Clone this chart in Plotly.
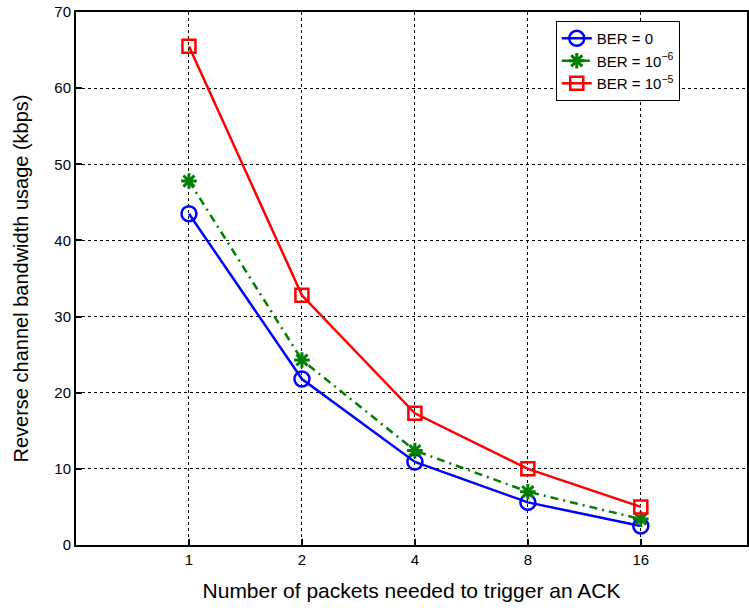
import plotly.graph_objects as go

x_labels = ["1", "2", "4", "8", "16"]
x_pos = [1, 2, 3, 4, 5]
ber0 = [43.5, 21.8, 10.9, 5.6, 2.5]
ber6 = [47.8, 24.3, 12.4, 7.0, 3.4]
ber5 = [65.5, 32.8, 17.3, 10.0, 5.0]
y_ticks = [0, 10, 20, 30, 40, 50, 60, 70]

fig = go.Figure()
fig.add_trace(go.Scatter(x=x_pos, y=ber0, mode="lines+markers", name="BER = 0",
                         line=dict(color="#0000ff", width=2.5),
                         marker=dict(symbol="circle-open", size=15, color="#0000ff", line=dict(width=2.5))))
fig.add_trace(go.Scatter(x=x_pos, y=ber6, mode="lines+markers", name="BER = 10<sup>−6</sup>",
                         line=dict(color="#007f00", width=2.5, dash="8px,5px,2px,5px"),
                         marker=dict(symbol="asterisk-open", size=13, color="#007f00", line=dict(width=3, color="#007f00"))))
fig.add_trace(go.Scatter(x=x_pos, y=ber5, mode="lines+markers", name="BER = 10<sup>−5</sup>",
                         line=dict(color="#ff0000", width=2.5),
                         marker=dict(symbol="square-open", size=13, color="#ff0000", line=dict(width=2.5))))

fig.update_layout(
    width=749, height=608,
    margin=dict(l=76, r=0, t=12, b=63),
    paper_bgcolor="white", plot_bgcolor="white",
    font=dict(family="Liberation Sans, Arial", size=14, color="black"),
    legend=dict(x=0.715, y=0.983, xanchor="left", yanchor="top",
                bordercolor="black", borderwidth=1, bgcolor="white",
                font=dict(size=15), tracegroupgap=0, itemwidth=30),
    showlegend=True,
)
fig.update_xaxes(range=[0, 5.94], tickvals=x_pos, ticktext=x_labels,
                 showline=True, linecolor="black", linewidth=2, mirror=True,
                 ticks="inside", ticklen=6, tickwidth=1.5, tickcolor="black",
                 showgrid=True, gridcolor="black", griddash="dot", gridwidth=1,
                 zeroline=False,
                 title=dict(text="Number of packets needed to trigger an ACK", font=dict(size=21), standoff=16),
                 tickfont=dict(size=15))
fig.update_yaxes(range=[0, 70], tickvals=y_ticks,
                 showline=True, linecolor="black", linewidth=2, mirror=True,
                 ticks="inside", ticklen=6, tickwidth=1.5, tickcolor="black",
                 showgrid=True, gridcolor="black", griddash="dot", gridwidth=1,
                 zeroline=False,
                 title=dict(text="Reverse channel bandwidth usage (kbps)", font=dict(size=20), standoff=20),
                 tickfont=dict(size=15))

fig.write_html("out.html")
